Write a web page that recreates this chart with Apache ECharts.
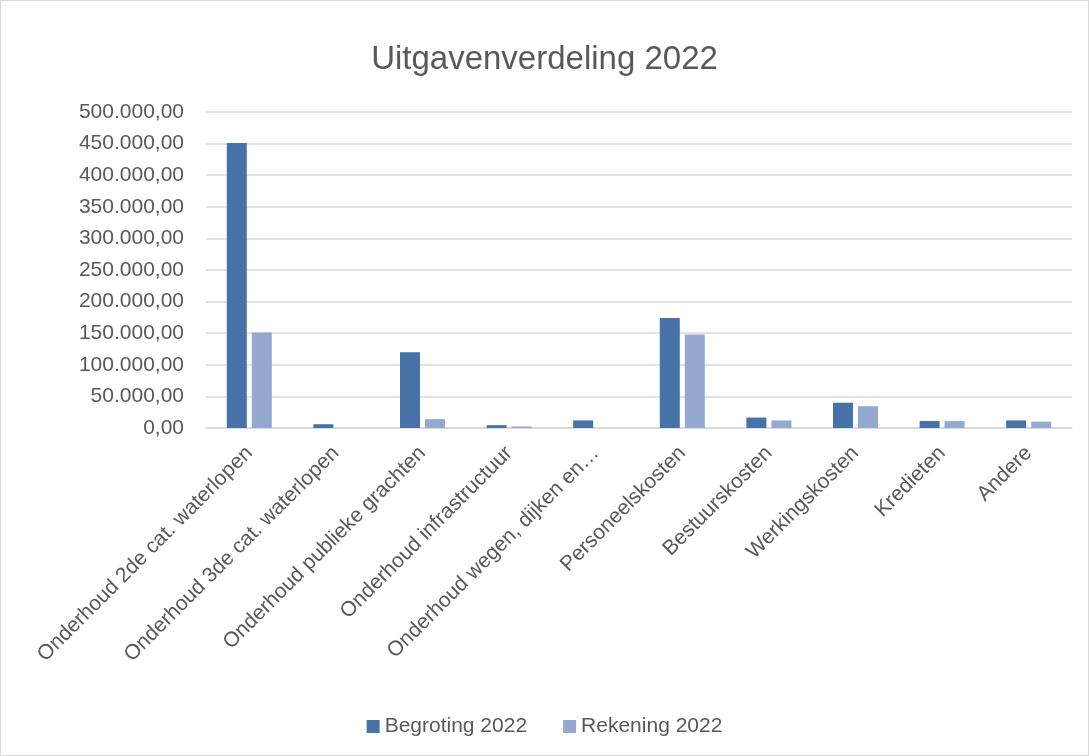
<!DOCTYPE html>
<html><head><meta charset="utf-8">
<script src="https://cdn.jsdelivr.net/npm/echarts@6/dist/echarts.min.js"></script>
<style>html,body{margin:0;padding:0;background:#fff}#c{width:1089px;height:756px;box-sizing:border-box;border:1px solid #d9d9d9}</style>
</head><body><div id="c"></div>
<script>
const categories = ["Onderhoud 2de cat. waterlopen","Onderhoud 3de cat. waterlopen","Onderhoud publieke grachten","Onderhoud infrastructuur","Onderhoud wegen, dijken en…","Personeelskosten","Bestuurskosten","Werkingskosten","Kredieten","Andere"];
const begroting = [451000, 6000, 120000, 4500, 12000, 174000, 16500, 40000, 11000, 12000];
const rekening = [151000, 0, 14000, 2500, 0, 148000, 12000, 34500, 11000, 10000];
const seriesNames = ["Begroting 2022","Rekening 2022"];
const fmt = v => {
  const s = Math.round(v).toString().replace(/\B(?=(\d{3})+(?!\d))/g, ".");
  return s + ",00";
};
const font = "Liberation Sans, Arial, sans-serif";
const chart = echarts.init(document.getElementById('c'), null, {renderer:'canvas'});
chart.setOption({
  animation:false,
  title:{text:"Uitgavenverdeling 2022",left:'center',top:37,textStyle:{fontFamily:font,fontSize:33,fontWeight:'normal',color:'#595959'}},
  legend:{bottom:13,left:'center',itemWidth:13,itemHeight:13,itemGap:36,icon:'rect',textStyle:{fontFamily:font,fontSize:21,color:'#595959'}},
  grid:{left:205,right:16,top:111,bottom:327,containLabel:false},
  xAxis:{type:'category',data:categories,
    axisLine:{lineStyle:{color:'#d9d9d9',width:1.5}},axisTick:{show:false},
    axisLabel:{rotate:45,interval:0,margin:22,fontFamily:font,fontSize:21,color:'#595959'}},
  yAxis:{type:'value',min:0,max:500000,interval:50000,
    axisLine:{show:false},axisTick:{show:false},
    splitLine:{lineStyle:{color:'#d9d9d9',width:1.5}},
    axisLabel:{formatter:fmt,margin:22,fontFamily:font,fontSize:21,color:'#595959'}},
  series:[
    {name:seriesNames[0],type:'bar',data:begroting,barWidth:20,barGap:'25%',itemStyle:{color:'#4672A7'}},
    {name:seriesNames[1],type:'bar',data:rekening,barWidth:20,itemStyle:{color:'#94A9D0'}}
  ]
});
</script></body></html>
